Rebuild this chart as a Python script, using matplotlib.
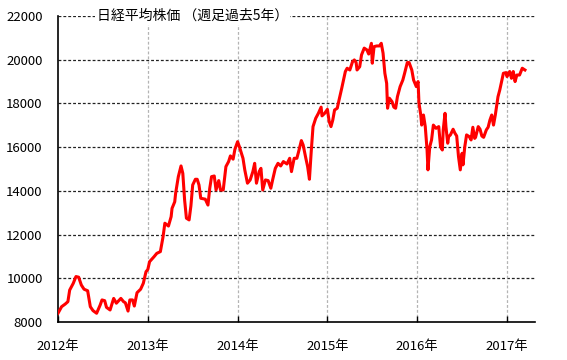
import matplotlib
matplotlib.use("Agg")
import matplotlib.pyplot as plt

plt.rcParams['font.family'] = ['Noto Sans CJK JP', 'DejaVu Sans']

# decimal-year positions and Nikkei weekly values
t = [2012.00, 2012.04, 2012.08, 2012.11, 2012.13, 2012.17, 2012.20, 2012.23, 2012.26, 2012.29,
     2012.33, 2012.36, 2012.39, 2012.43, 2012.47, 2012.49, 2012.52, 2012.54, 2012.58, 2012.62,
     2012.65, 2012.70, 2012.73, 2012.75, 2012.78, 2012.80, 2012.83, 2012.85, 2012.88, 2012.92,
     2012.95, 2012.98, 2013.00, 2013.02, 2013.07, 2013.10, 2013.14, 2013.17, 2013.19, 2013.23,
     2013.26, 2013.27, 2013.30, 2013.31, 2013.34, 2013.37, 2013.39, 2013.41, 2013.43, 2013.46,
     2013.48, 2013.50, 2013.53, 2013.55, 2013.57, 2013.59, 2013.64, 2013.67, 2013.69, 2013.71,
     2013.74, 2013.76, 2013.79, 2013.81, 2013.84, 2013.87, 2013.90, 2013.92, 2013.95, 2013.97,
     2014.00, 2014.02, 2014.06, 2014.08, 2014.11, 2014.14, 2014.17, 2014.19, 2014.21, 2014.24,
     2014.26, 2014.28, 2014.31, 2014.34, 2014.37, 2014.39, 2014.42, 2014.45, 2014.48, 2014.51,
     2014.55, 2014.58, 2014.60, 2014.63, 2014.66, 2014.68, 2014.71, 2014.73, 2014.76, 2014.78,
     2014.80, 2014.82, 2014.84, 2014.87, 2014.90, 2014.93, 2014.94, 2014.97, 2015.00, 2015.02,
     2015.04, 2015.06, 2015.08, 2015.11, 2015.13, 2015.16, 2015.20, 2015.22, 2015.25, 2015.28,
     2015.30, 2015.32, 2015.33, 2015.36, 2015.38, 2015.41, 2015.44, 2015.46, 2015.49, 2015.50,
     2015.52, 2015.55, 2015.58, 2015.60, 2015.62, 2015.64, 2015.66, 2015.67, 2015.69, 2015.72,
     2015.74, 2015.76, 2015.78, 2015.81, 2015.84, 2015.86, 2015.89, 2015.91, 2015.94, 2015.96,
     2015.99, 2016.01, 2016.02, 2016.04, 2016.05, 2016.07, 2016.09, 2016.11, 2016.12, 2016.14,
     2016.16, 2016.18, 2016.21, 2016.24, 2016.26, 2016.28, 2016.29, 2016.31, 2016.32, 2016.34,
     2016.35, 2016.37, 2016.40, 2016.42, 2016.44, 2016.46, 2016.48, 2016.50, 2016.51, 2016.53,
     2016.55, 2016.58, 2016.60, 2016.62, 2016.64, 2016.65, 2016.68, 2016.70, 2016.72, 2016.74,
     2016.77, 2016.79, 2016.81, 2016.83, 2016.85, 2016.87, 2016.89, 2016.90, 2016.92, 2016.94,
     2016.96, 2016.99, 2017.00, 2017.03, 2017.05, 2017.07, 2017.09, 2017.11, 2017.14, 2017.17,
     2017.20]
nikkei = [8400, 8700, 8820, 8930, 9460, 9770, 10080, 10050, 9690, 9500,
          9430, 8700, 8520, 8400, 8780, 9010, 8975, 8670, 8550, 9080,
          8860, 9080, 8930, 8880, 8500, 9010, 9010, 8730, 9340, 9500,
          9770, 10300, 10400, 10760, 10990, 11140, 11220, 11900, 12520, 12390,
          12820, 13200, 13500, 13890, 14650, 15140, 14800, 13580, 12750, 12670,
          13310, 14270, 14530, 14530, 14270, 13660, 13620, 13350, 14120, 14650,
          14680, 14040, 14470, 14040, 14040, 15110, 15340, 15600, 15450, 15900,
          16250, 16020, 15490, 14960, 14350, 14500, 14880, 15260, 14350, 14880,
          15030, 14040, 14500, 14470, 14120, 14500, 15030, 15260, 15140, 15340,
          15230, 15490, 14880, 15490, 15490, 15800, 16300, 16100, 15490, 15110,
          14530, 15800, 16940, 17320, 17550, 17830, 17430, 17550, 17730, 17170,
          16940, 17240, 17700, 17780, 18160, 18700, 19460, 19610, 19530, 19910,
          19990, 19870, 19530, 19680, 20220, 20530, 20450, 20260, 20750, 19840,
          20600, 20630, 20630, 20750, 20300, 19380, 18920, 17780, 18240, 18080,
          17830, 17780, 18310, 18770, 19070, 19380, 19870, 19870, 19530, 19070,
          18770, 19000, 18010, 17470, 17010, 17470, 16940, 15870, 14960, 16020,
          16330, 17010, 16860, 16940, 16020, 15870, 16790, 17550, 16940, 16180,
          16480, 16560, 16820, 16640, 16510, 15570, 14960, 15720, 15190, 16020,
          16560, 16480, 16330, 16910, 16400, 16450, 16940, 16820, 16510, 16450,
          16790, 16910, 17240, 17470, 17010, 17470, 18010, 18310, 18620, 19000,
          19380, 19410, 19230, 19460, 19150, 19460, 19000, 19300, 19300, 19610,
          19530]

years = [2012, 2013, 2014, 2015, 2016, 2017]
year_labels = ['2012年', '2013年', '2014年', '2015年', '2016年', '2017年']
y_ticks = [8000, 10000, 12000, 14000, 16000, 18000, 20000, 22000]
title = '日経平均株価 （週足過去5年）'

fig = plt.figure(figsize=(5.67, 3.60), dpi=100)
ax = fig.add_axes([58 / 567, 1 - 322 / 360, (535 - 58) / 567, (322 - 16) / 360])

ax.set_xlim(2012.0, 2017.312)
ax.set_ylim(8000, 22000)

# grid lines
for yv in y_ticks[1:]:
    ax.axhline(yv, color='#222222', lw=0.9, ls=(0, (2.3, 1.6)), zorder=1)
for xv in years[1:]:
    ax.axvline(xv, color='#b4b4b4', lw=0.9, ls=(0, (2.3, 1.6)), zorder=1)

ax.plot(t, nikkei, color='#ff0000', lw=2.2, zorder=3, solid_joinstyle='round')

ax.set_xticks(years)
ax.set_xticklabels(year_labels)
ax.set_yticks(y_ticks)
ax.set_yticklabels([str(v) for v in y_ticks])
ax.tick_params(axis='x', direction='in', length=4, width=1, pad=13, labelsize=9.5)
ax.tick_params(axis='y', direction='in', length=0, pad=11, labelsize=9.5)

for s in ['top', 'right']:
    ax.spines[s].set_visible(False)
for s in ['left', 'bottom']:
    ax.spines[s].set_linewidth(1.2)
    ax.spines[s].set_color('black')

ax.text(2012.43, 22000, title, ha='left', va='center', fontsize=10,
        bbox=dict(facecolor='white', edgecolor='none', pad=1.5), zorder=4)

fig.savefig('out.png', dpi=100)
